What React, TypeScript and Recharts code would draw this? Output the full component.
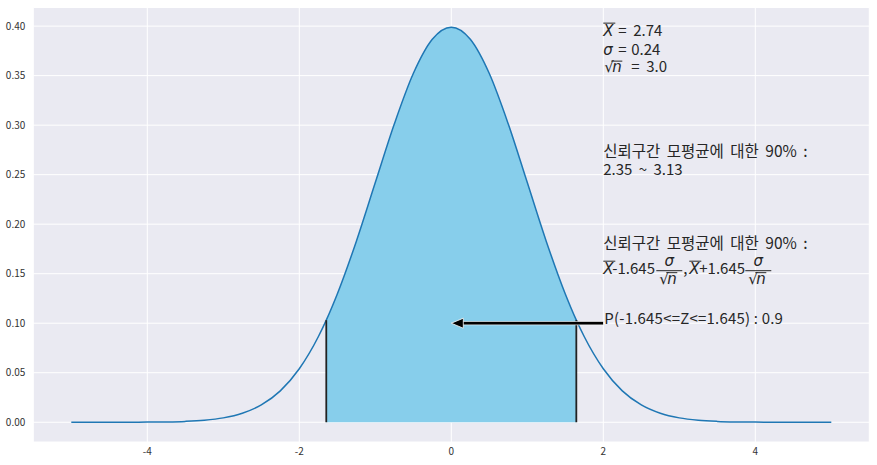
import React from 'react';
import {
  ComposedChart,
  Line,
  Area,
  XAxis,
  YAxis,
  CartesianGrid,
  ReferenceLine,
  ReferenceDot,
} from 'recharts';

// ---- data (standard normal density curve) ----
const curveX = [
  -5, -4.75, -4.5, -4.25, -4, -3.75, -3.5, -3.25, -3, -2.75, -2.5, -2.25, -2, -1.75,
  -1.645, -1.5, -1.25, -1, -0.75, -0.5, -0.25, 0, 0.25, 0.5, 0.75, 1, 1.25, 1.5, 1.645,
  1.75, 2, 2.25, 2.5, 2.75, 3, 3.25, 3.5, 3.75, 4, 4.25, 4.5, 4.75, 5,
];
const curveY = [
  0.0000015, 0.000005, 0.000016, 0.000048, 0.00013, 0.00035, 0.00087, 0.002, 0.0044,
  0.0091, 0.0175, 0.0317, 0.054, 0.0863, 0.1031, 0.1295, 0.1826, 0.242, 0.3011, 0.3521,
  0.3867, 0.3989, 0.3867, 0.3521, 0.3011, 0.242, 0.1826, 0.1295, 0.1031, 0.0863, 0.054,
  0.0317, 0.0175, 0.0091, 0.0044, 0.002, 0.00087, 0.00035, 0.00013, 0.000048, 0.000016,
  0.000005, 0.0000015,
];
const zBounds = [-1.645, 1.645];
const boundHeights = [0.1031, 0.1031];
const xTicks = [-4, -2, 0, 2, 4];
const yTicks = [0, 0.05, 0.1, 0.15, 0.2, 0.25, 0.3, 0.35, 0.4];
const xDomain = [-5.5, 5.5];
const yDomain = [-0.01995, 0.4188];

// annotation values
const sampleMean = '2.74';
const sigmaText = '0.24';
const sqrtNText = '3.0';
const ciLow = '2.35';
const ciHigh = '3.13';
const zCrit = '1.645';
const probability = '0.9';
const ciTitle = '신뢰구간 모평균에 대한 90% :';
const annotX = 2;
const statsY = 0.35;
const ciY = 0.25;
const formulaY = 0.15;
const arrowY = 0.1;
const arrowTipX = 0;

const data = curveX.map((x, i) => ({
  x,
  pdf: curveY[i],
  fill: x >= zBounds[0] - 1e-9 && x <= zBounds[1] + 1e-9 ? curveY[i] : null,
}));

const TXT = '#262626';
const KFONT = 'Noto Sans CJK KR';
const MFONT = 'DejaVu Sans';
const FS = 15;
const TITLE_FS = 15.5;

const it = { fontFamily: MFONT, fontStyle: 'italic' as const };

// horizontal overline helper
const Bar = ({ x1, x2, y }: { x1: number; x2: number; y: number }) => (
  <line x1={x1} x2={x2} y1={y} y2={y} stroke={TXT} strokeWidth={1} />
);

const StatsBlock = (p: any) => {
  const { cx, cy } = p;
  const b1 = cy - 40;
  const b2 = cy - 20.8;
  const b3 = cy - 3.5;
  return (
    <g>
      <text fontFamily={KFONT} fontSize={FS} fill={TXT}>
        <tspan x={cx} y={b1} {...it}>X</tspan>
        <tspan x={cx + 15} y={b1}>=</tspan>
        <tspan x={cx + 30} y={b1}>{sampleMean}</tspan>
        <tspan x={cx} y={b2} {...it}>σ</tspan>
        <tspan x={cx + 15} y={b2}>=</tspan>
        <tspan x={cx + 28} y={b2}>{sigmaText}</tspan>
        <tspan x={cx + 1} y={b3} fontFamily={MFONT}>√</tspan>
        <tspan x={cx + 9} y={b3} {...it}>n</tspan>
        <tspan x={cx + 28} y={b3}>=</tspan>
        <tspan x={cx + 43} y={b3}>{sqrtNText}</tspan>
      </text>
      <Bar x1={cx} x2={cx + 12} y={b1 - 12.5} />
      <Bar x1={cx + 8} x2={cx + 19} y={b3 - 11} />
    </g>
  );
};

const CiBlock = (p: any) => {
  const { cx, cy } = p;
  return (
    <text fontFamily={KFONT} fill={TXT}>
      <tspan x={cx} y={cy - 18} fontSize={TITLE_FS} wordSpacing={3}>
        {ciTitle}
      </tspan>
      <tspan x={cx} y={cy} fontSize={FS} wordSpacing={3}>
        {ciLow + ' ~ ' + ciHigh}
      </tspan>
    </text>
  );
};

const FormulaBlock = (p: any) => {
  const { cx, cy } = p;
  const f1 = cx + 53;
  const f2 = cx + 142;
  const num = cy - 7.5;
  const den = cy + 10;
  return (
    <g>
      <text fontFamily={KFONT} fontSize={FS} fill={TXT}>
        <tspan x={cx} y={cy - 25} fontSize={TITLE_FS} wordSpacing={3}>
          {ciTitle}
        </tspan>
        <tspan x={cx} y={cy} {...it}>X</tspan>
        <tspan x={cx + 9} y={cy}>{'-' + zCrit}</tspan>
        <tspan x={f1 + 13} y={num} textAnchor="middle" {...it}>σ</tspan>
        <tspan x={f1 + 3} y={den} fontFamily={MFONT}>√</tspan>
        <tspan x={f1 + 11} y={den} {...it}>n</tspan>
        <tspan x={cx + 80} y={cy}>,</tspan>
        <tspan x={cx + 86} y={cy} {...it}>X</tspan>
        <tspan x={cx + 96} y={cy}>{'+' + zCrit}</tspan>
        <tspan x={f2 + 13} y={num} textAnchor="middle" {...it}>σ</tspan>
        <tspan x={f2 + 3} y={den} fontFamily={MFONT}>√</tspan>
        <tspan x={f2 + 11} y={den} {...it}>n</tspan>
      </text>
      <Bar x1={cx} x2={cx + 12} y={cy - 12.5} />
      <Bar x1={cx + 86} x2={cx + 98} y={cy - 12.5} />
      <Bar x1={f1} x2={f1 + 26} y={cy - 3} />
      <Bar x1={f2} x2={f2 + 26} y={cy - 3} />
      <Bar x1={f1 + 10} x2={f1 + 21} y={den - 11} />
      <Bar x1={f2 + 10} x2={f2 + 21} y={den - 11} />
    </g>
  );
};

const ProbText = (p: any) => {
  const { cx, cy } = p;
  return (
    <text x={cx + 1} y={cy + 1} fontFamily={KFONT} fontSize={FS} fill={TXT} letterSpacing={0.2}>
      {'P(-' + zCrit + '<=Z<=' + zCrit + ') : ' + probability}
    </text>
  );
};

const ArrowShape = (p: any) => {
  const { x1, y1, x2, y2 } = p;
  const start = Math.max(x1, x2);
  const tip = Math.min(x1, x2);
  const y = (y1 + y2) / 2;
  const head = 12;
  return (
    <g>
      <rect
        x={tip + head - 1}
        y={y - 1.7}
        width={start - tip - head + 1}
        height={3.4}
        fill="#000"
        stroke="#fff"
        strokeWidth={0.6}
      />
      <polygon
        points={`${tip},${y} ${tip + head},${y - 5} ${tip + head},${y + 5}`}
        fill="#000"
        stroke="#fff"
        strokeWidth={0.8}
      />
    </g>
  );
};

export default function App() {
  return (
    <div style={{ position: 'absolute', left: 0, top: 0, width: 877, height: 465, background: '#fff' }}>
      <ComposedChart
        width={877}
        height={465}
        data={data}
        margin={{ top: 7.5, right: 7.7, bottom: 0, left: 0 }}
      >
        <CartesianGrid fill="#EAEAF2" stroke="#ffffff" strokeWidth={1} />
        <XAxis
          dataKey="x"
          type="number"
          domain={xDomain}
          ticks={xTicks}
          allowDataOverflow
          axisLine={false}
          tickLine={false}
          tickSize={0}
          tickMargin={6}
          height={23}
          tick={{ fontSize: 10, fill: '#333', fontFamily: KFONT }}
        />
        <YAxis
          type="number"
          domain={yDomain}
          ticks={yTicks}
          allowDataOverflow
          axisLine={false}
          tickLine={false}
          tickSize={0}
          tickMargin={8}
          width={33.3}
          tickFormatter={(v: number) => v.toFixed(2)}
          tick={{ fontSize: 10, fill: '#333', fontFamily: KFONT }}
        />
        <Area
          dataKey="fill"
          type="monotone"
          baseValue={0}
          fill="#87CEEB"
          fillOpacity={1}
          stroke="none"
          isAnimationActive={false}
          dot={false}
          activeDot={false}
        />
        <Line
          dataKey="pdf"
          type="monotone"
          stroke="#1f77b4"
          strokeWidth={1.5}
          dot={false}
          activeDot={false}
          isAnimationActive={false}
        />
        {zBounds.map((z, i) => (
          <ReferenceLine
            key={'b' + i}
            segment={[
              { x: z, y: 0 },
              { x: z, y: boundHeights[i] },
            ]}
            stroke="#222"
            strokeWidth={1.8}
            ifOverflow="visible"
          />
        ))}
        <ReferenceLine
          segment={[
            { x: annotX, y: arrowY },
            { x: arrowTipX, y: arrowY },
          ]}
          ifOverflow="visible"
          shape={ArrowShape}
        />
        <ReferenceDot x={annotX} y={statsY} r={0} ifOverflow="visible" shape={StatsBlock} />
        <ReferenceDot x={annotX} y={ciY} r={0} ifOverflow="visible" shape={CiBlock} />
        <ReferenceDot x={annotX} y={formulaY} r={0} ifOverflow="visible" shape={FormulaBlock} />
        <ReferenceDot x={annotX} y={arrowY} r={0} ifOverflow="visible" shape={ProbText} />
      </ComposedChart>
    </div>
  );
}
